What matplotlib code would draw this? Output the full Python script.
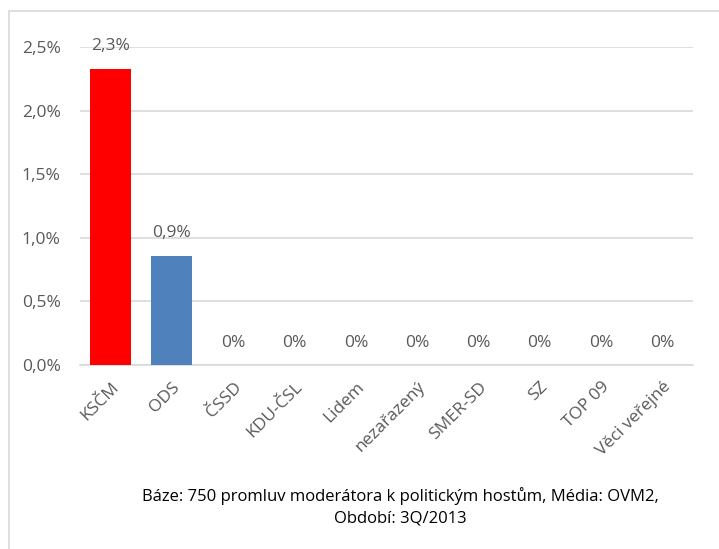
import matplotlib
matplotlib.use("Agg")
import matplotlib.pyplot as plt
from matplotlib.patches import Rectangle

categories = ["KSČM", "ODS", "ČSSD", "KDU-ČSL", "Lidem", "nezařazený", "SMER-SD", "SZ", "TOP 09", "Věci veřejné"]
values = [2.33, 0.86, 0, 0, 0, 0, 0, 0, 0, 0]
labels = ["2,3%", "0,9%", "0%", "0%", "0%", "0%", "0%", "0%", "0%", "0%"]
colors = ["#FF0000", "#4F81BD"] + ["#4F81BD"] * 8
yticks = [0, 0.5, 1.0, 1.5, 2.0, 2.5]
yticklabels = ["0,0%", "0,5%", "1,0%", "1,5%", "2,0%", "2,5%"]
caption = "Báze: 750 promluv moderátora k politickým hostům, Média: OVM2,\nObdobí: 3Q/2013"

plt.rcParams['font.family'] = ['Open Sans', 'DejaVu Sans']
txt = "#595959"
fs = 12.5

W, H = 719, 549
fig = plt.figure(figsize=(W / 100, H / 100), dpi=100)
ax = fig.add_axes([80 / W, 1 - 365 / H, (693 - 80) / W, (365 - 47) / H])

x = list(range(len(categories)))
ax.bar(x, values, width=0.67, color=colors, zorder=3)
ax.set_xlim(-0.5, len(categories) - 0.5)
ax.set_ylim(0, 2.5)
ax.set_yticks(yticks)
ax.set_yticklabels(yticklabels, color=txt, fontsize=fs)
ax.yaxis.grid(True, color="#D9D9D9", linewidth=1.2, zorder=0)
ax.set_axisbelow(True)
for s in ["left", "right", "top"]:
    ax.spines[s].set_visible(False)
ax.spines["bottom"].set_color("#D9D9D9")
ax.spines["bottom"].set_linewidth(1.2)
ax.tick_params(axis="both", length=0)
ax.tick_params(axis="y", pad=14)
ax.set_xticks(x)
ax.set_xticklabels(categories, rotation=45, ha="right", rotation_mode="anchor",
                   color=txt, fontsize=fs)
ax.tick_params(axis="x", pad=10)

for xi, v, lab in zip(x, values, labels):
    ax.annotate(lab, (xi, v), xytext=(0, 16), textcoords="offset points",
                ha="center", va="center", color=txt, fontsize=fs)

fig.text(400 / W, 1 - 507 / H, caption, ha="center", va="center",
         fontsize=12, color="#000000", linespacing=1.45)

fig.patches.append(Rectangle((9 / W, -0.1), 1.1, 1 - 11 / H + 0.1,
                             transform=fig.transFigure, fill=False,
                             edgecolor="#D9D9D9", linewidth=1.2))

fig.savefig("out.png", dpi=100)
